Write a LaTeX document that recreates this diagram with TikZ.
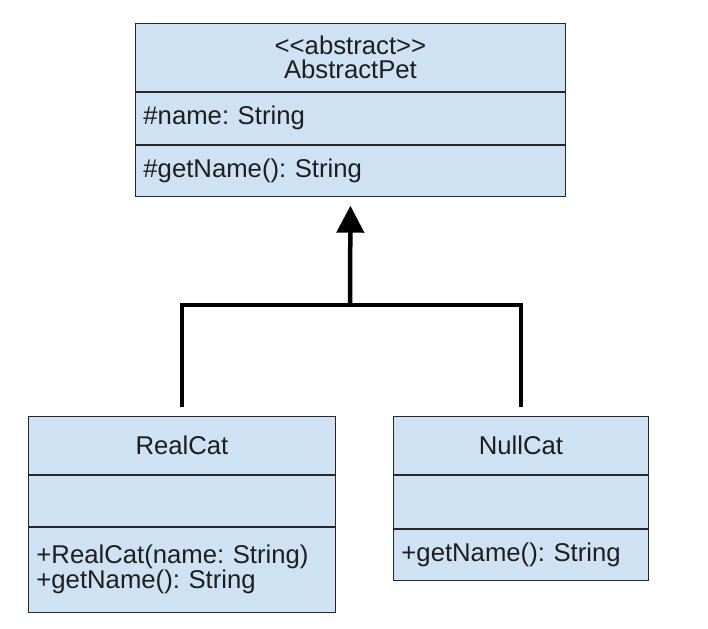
\documentclass[tikz,border=0pt]{standalone}
\usepackage{fontspec}
\setmainfont{Liberation Sans}
\frenchspacing
\usetikzlibrary{positioning,arrows.meta}
\definecolor{ClassFill}{RGB}{207,226,243}
\definecolor{ClassLine}{RGB}{40,40,40}
\definecolor{ClassText}{RGB}{30,30,30}
\tikzset{
  classtitle/.style={draw=ClassLine,fill=ClassFill,line width=0.9pt,text=ClassText,
    inner xsep=8pt,inner ysep=0pt,align=center,font=\fontsize{25.7}{23.3}\selectfont},
  classpart/.style={draw=ClassLine,fill=ClassFill,line width=0.9pt,text=ClassText,
    inner xsep=8pt,inner ysep=0pt,align=left,font=\fontsize{25.7}{23.3}\selectfont},
  inherit/.style={line width=4.5pt},
  inherittip/.style={-{Triangle[length=27pt,width=27pt]},line width=4.5pt}
}
\begin{document}
\begin{tikzpicture}[x=1pt,y=-1pt,node distance=0pt]
  \useasboundingbox (0,0) rectangle (708,628);
  % abstract base class
  \node[classtitle,anchor=north west,text width=414pt,minimum height=68pt] (pettitle) at (135,23) {<\kern0pt<abstract>\kern0pt>\\AbstractPet};
  \node[classpart,below=of pettitle,text width=414pt,minimum height=52pt] (petattr) {\#name: String};
  \node[classpart,below=of petattr,text width=414pt,minimum height=51pt] (petops) {\#getName(): String};
  % subclasses
  \node[classtitle,anchor=north west,text width=291pt,minimum height=58pt] (realtitle) at (28,416) {RealCat};
  \node[classpart,below=of realtitle,text width=291pt,minimum height=51pt] (realattr) {};
  \node[classpart,below=of realattr,text width=291pt,minimum height=85pt] (realops) {+RealCat(name: String)\\+getName(): String};
  \node[classtitle,anchor=north west,text width=239pt,minimum height=58pt] (nulltitle) at (393,416) {NullCat};
  \node[classpart,below=of nulltitle,text width=239pt,minimum height=53pt] (nullattr) {};
  \node[classpart,below=of nullattr,text width=239pt,minimum height=51pt] (nullops) {+getName(): String};
  % generalisation
  \coordinate (joint) at (350,305);
  \draw[inherit,shorten <=9pt] (realtitle.north) |- (joint);
  \draw[inherit,shorten <=9pt] (nulltitle.north) |- (joint);
  \draw[inherittip,shorten >=9pt] (joint) -- (petops.south);
\end{tikzpicture}
\end{document}
